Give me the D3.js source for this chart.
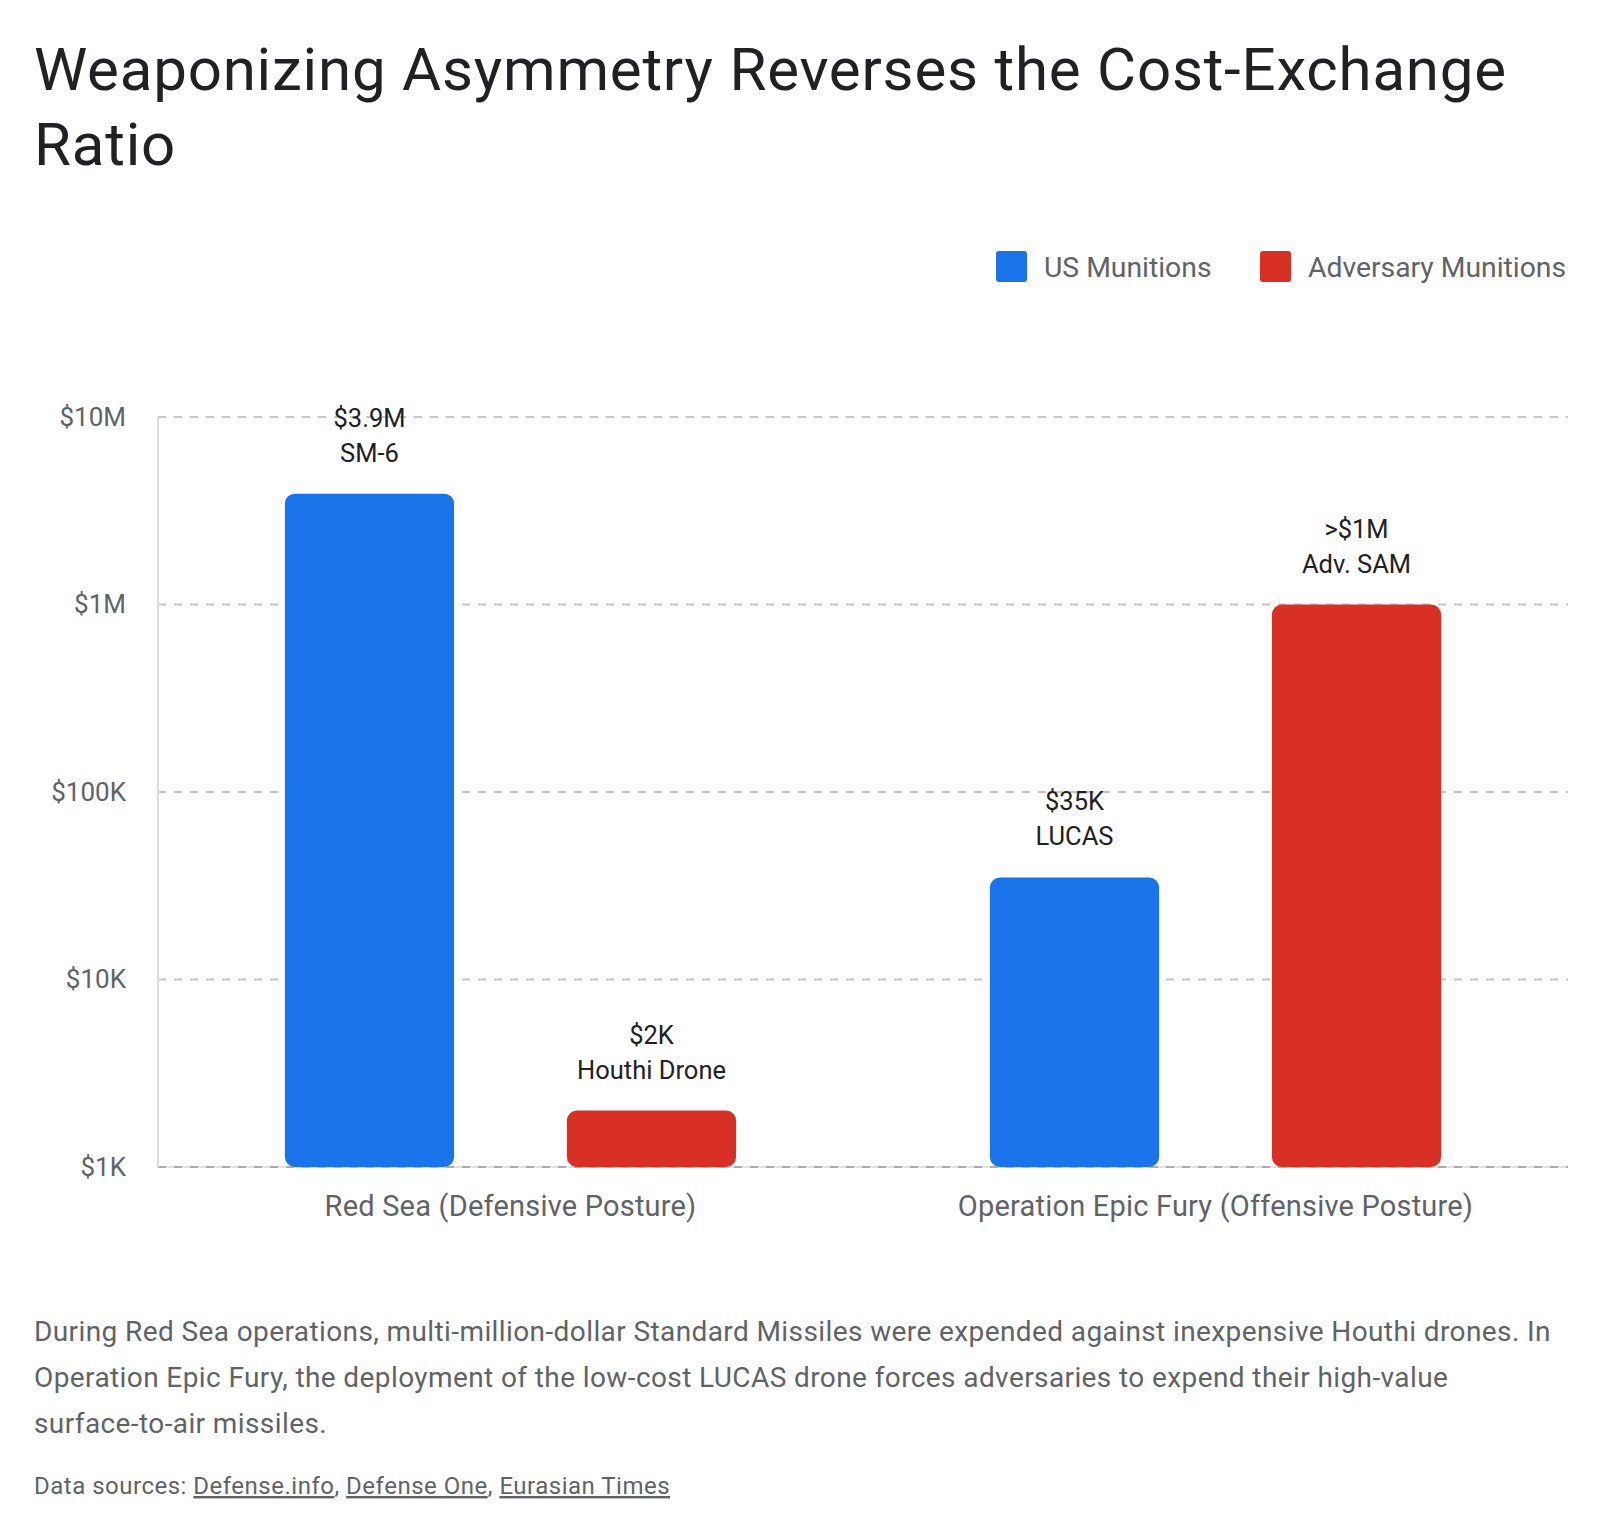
<!DOCTYPE html>
<html>
<head>
<meta charset="utf-8">
<script src="https://cdn.jsdelivr.net/npm/d3@7"></script>
<style>
  body { margin: 0; background: #fff; }
  svg text { font-family: "Google Sans", Roboto, "Noto Sans", sans-serif; }
  .tick-label { fill: #5f6368; font-size: 26px; }
  .cat-label { fill: #5f6368; font-size: 29px; letter-spacing: 0.2px; }
  .bar-label { fill: #202124; font-size: 25.5px; }
  .legend-label { fill: #5f6368; font-size: 28.3px; }
  .note { fill: #5f6368; font-size: 28px; letter-spacing: 0.4px; }
  .sources { fill: #5f6368; font-size: 24px; letter-spacing: 0.5px; }
</style>
</head>
<body>
<div id="chart"></div>
<script>
// data
const categories = ["Red Sea (Defensive Posture)", "Operation Epic Fury (Offensive Posture)"];
const seriesNames = ["US Munitions", "Adversary Munitions"];
const usCost = [3900000, 35000];
const advCost = [2000, 1000000];
const usLabels = [["$3.9M", "SM-6"], ["$35K", "LUCAS"]];
const advLabels = [["$2K", "Houthi Drone"], [">$1M", "Adv. SAM"]];
const tickValues = [1e3, 1e4, 1e5, 1e6, 1e7];
const tickLabels = ["$1K", "$10K", "$100K", "$1M", "$10M"];
const colors = ["#1a73e8", "#d93025"];

const titleLines = ["Weaponizing Asymmetry Reverses the Cost-Exchange", "Ratio"];
const noteLines = [
    "During Red Sea operations, multi-million-dollar Standard Missiles were expended against inexpensive Houthi drones. In",
    "Operation Epic Fury, the deployment of the low-cost LUCAS drone forces adversaries to expend their high-value",
    "surface-to-air missiles."
];
const sources = ["Defense.info", "Defense One", "Eurasian Times"];

let data = [];
categories.forEach(function (c, i) {
    data.push({cat: c, series: seriesNames[0], value: usCost[i], label: usLabels[i]});
    data.push({cat: c, series: seriesNames[1], value: advCost[i], label: advLabels[i]});
});

const W = 1600, H = 1534;
const margin = {top: 417, right: 32, bottom: 367, left: 158};
const width = W - margin.left - margin.right;
const height = H - margin.top - margin.bottom;

const svg = d3.select("#chart").append("svg")
    .attr("width", W)
    .attr("height", H);

// title
svg.append("g").selectAll("text")
    .data(titleLines)
    .enter().append("text")
    .attr("x", 34)
    .attr("y", (d, i) => 90 + i * 75)
    .attr("fill", "#202124")
    .attr("font-size", 60)
    .attr("letter-spacing", 0.8)
    .text(d => d);

// legend
let legend = svg.append("g").attr("class", "legend");
const legendX = [996, 1260];
seriesNames.forEach(function (s, i) {
    let g = legend.append("g").attr("transform", "translate(" + legendX[i] + ",251)");
    g.append("rect")
        .attr("width", 31).attr("height", 31).attr("rx", 3)
        .attr("fill", colors[i]);
    g.append("text")
        .attr("class", "legend-label")
        .attr("x", 48).attr("y", 16).attr("dy", ".35em")
        .text(s);
});

const chart = svg.append("g")
    .attr("transform", "translate(" + margin.left + "," + margin.top + ")");

// scales
const x0 = d3.scaleBand().domain(categories).range([0, width]).padding(0);
const x1 = d3.scaleBand().domain(seriesNames).range([0, x0.bandwidth()])
    .paddingInner(0.4).paddingOuter(0.45);
const y = d3.scaleLog().domain([1e3, 1e7]).range([height, 0]);
const color = d3.scaleOrdinal().domain(seriesNames).range(colors);

// baseline under the bottom gridline
chart.append("line")
    .attr("x1", 0).attr("x2", width)
    .attr("y1", height).attr("y2", height)
    .attr("stroke", "#e2e2e2").attr("stroke-width", 2);

// gridlines
chart.append("g").selectAll("line")
    .data(tickValues)
    .enter().append("line")
    .attr("x1", 0).attr("x2", width)
    .attr("y1", d => y(d)).attr("y2", d => y(d))
    .attr("stroke", d => d === 1e3 ? "#ababab" : "#c6c6c6")
    .attr("stroke-width", 2)
    .attr("stroke-dasharray", "8,8");

// y axis line
chart.append("line")
    .attr("x1", 0).attr("x2", 0)
    .attr("y1", 0).attr("y2", height)
    .attr("stroke", "#dddddd").attr("stroke-width", 2);

// y axis tick labels
const yAxis = d3.axisLeft(y)
    .tickValues(tickValues)
    .tickFormat((d, i) => tickLabels[i])
    .tickSize(0)
    .tickPadding(32);
let yg = chart.append("g").call(yAxis);
yg.select(".domain").remove();
yg.selectAll("text")
    .attr("class", "tick-label")
    .attr("fill", null)
    .attr("font-family", null)
    .attr("font-size", null);

// bars
chart.selectAll(".bar")
    .data(data)
    .enter().append("rect")
    .attr("class", "bar")
    .attr("x", d => x0(d.cat) + x1(d.series))
    .attr("width", x1.bandwidth())
    .attr("y", d => y(d.value))
    .attr("height", d => height - y(d.value))
    .attr("rx", 10)
    .attr("fill", d => color(d.series));

// bar labels
let labels = chart.selectAll(".bar-label-g")
    .data(data)
    .enter().append("g")
    .attr("class", "bar-label-g")
    .attr("transform", d => "translate(" + (x0(d.cat) + x1(d.series) + x1.bandwidth() / 2) + "," + y(d.value) + ")");
labels.append("text")
    .attr("class", "bar-label")
    .attr("text-anchor", "middle")
    .attr("y", -67)
    .text(d => d.label[0]);
labels.append("text")
    .attr("class", "bar-label")
    .attr("text-anchor", "middle")
    .attr("y", -32)
    .text(d => d.label[1]);

// category labels
chart.selectAll(".cat-label")
    .data(categories)
    .enter().append("text")
    .attr("class", "cat-label")
    .attr("text-anchor", "middle")
    .attr("x", d => x0(d) + x0.bandwidth() / 2)
    .attr("y", height + 49)
    .text(d => d);

// note
svg.append("g").selectAll("text")
    .data(noteLines)
    .enter().append("text")
    .attr("class", "note")
    .attr("x", 34)
    .attr("y", (d, i) => 1341 + i * 46)
    .text(d => d);

// sources
let src = svg.append("text")
    .attr("class", "sources")
    .attr("x", 34)
    .attr("y", 1494);
src.append("tspan").text("Data sources: ");
sources.forEach(function (s, i) {
    src.append("tspan").attr("text-decoration", "underline").text(s);
    if (i < sources.length - 1) src.append("tspan").text(", ");
});
</script>
</body>
</html>
